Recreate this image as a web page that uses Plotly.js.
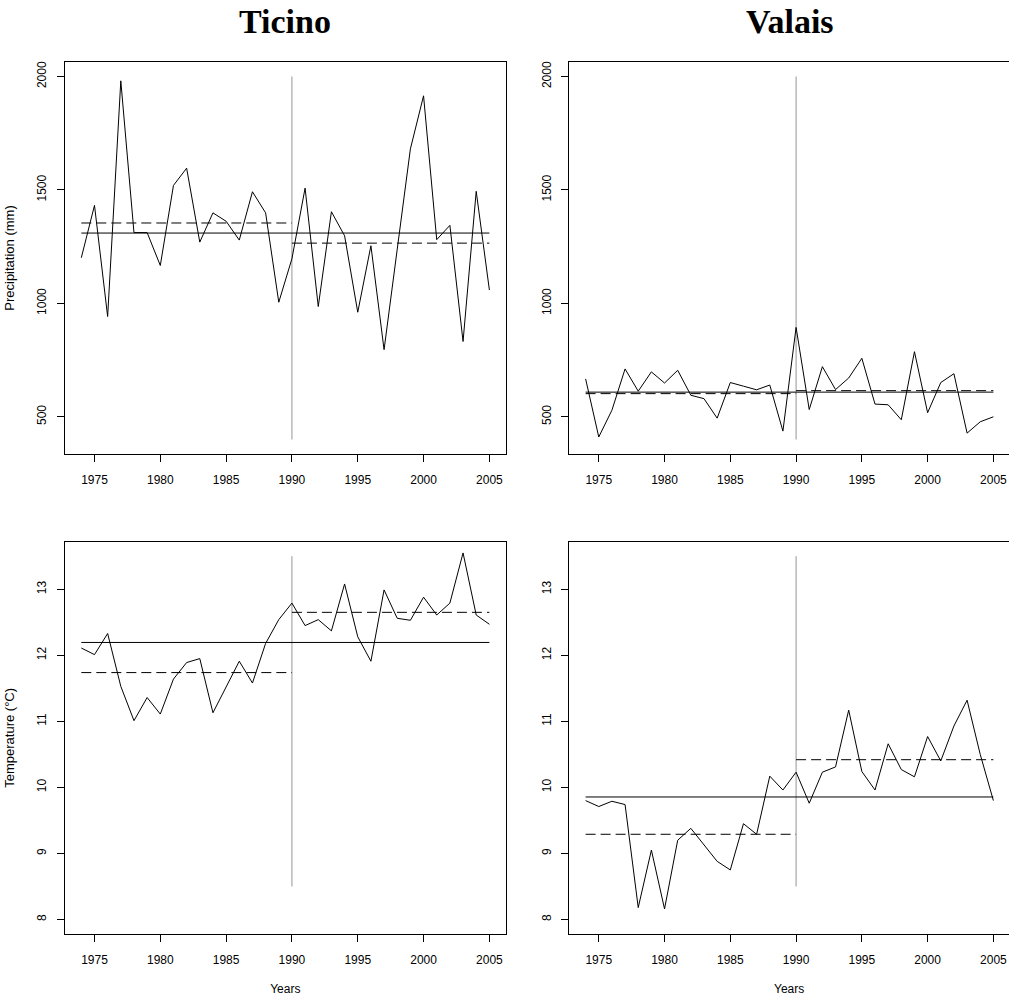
<!DOCTYPE html>
<html>
<head>
<meta charset="utf-8">
<script src="https://cdn.plot.ly/plotly-3.0.1.min.js"></script>
<style>html,body{margin:0;padding:0;background:#fff;}#chart{width:1009px;height:996px;}</style>
</head>
<body>
<div id="chart"></div>
<script>
const years = [1974,1975,1976,1977,1978,1979,1980,1981,1982,1983,1984,1985,1986,1987,1988,1989,
               1990,1991,1992,1993,1994,1995,1996,1997,1998,1999,2000,2001,2002,2003,2004,2005];
const breakYear = 1990;

const ticinoPrecip = [1201,1432,942,1981,1312,1312,1167,1520,1596,1270,1399,1362,1279,1492,1399,1005,
                      1197,1508,986,1404,1298,961,1254,796,1239,1681,1915,1281,1344,832,1494,1059];
const valaisPrecip = [667,411,529,711,613,698,649,705,595,580,494,651,635,619,640,437,
                      894,532,721,620,671,758,556,553,487,787,518,651,690,428,478,500];
const ticinoTemp = [12.11,12.01,12.33,11.53,11.01,11.36,11.11,11.64,11.89,11.95,11.13,11.53,11.91,11.58,12.18,12.54,
                    12.79,12.45,12.54,12.37,13.08,12.28,11.91,12.99,12.56,12.53,12.88,12.61,12.79,13.55,12.61,12.47];
const valaisTemp = [9.80,9.71,9.79,9.74,8.18,9.05,8.16,9.20,9.38,9.13,8.88,8.75,9.45,9.29,10.17,9.96,
                    10.23,9.76,10.23,10.31,11.17,10.24,9.96,10.66,10.27,10.16,10.77,10.40,10.93,11.32,10.50,9.80];

const precipBreakSpan = [400, 2000];
const tempBreakSpan = [8.5, 13.5];

const columnTitles = ["Ticino", "Valais"];
const xTickVals = [1975,1980,1985,1990,1995,2000,2005];
const precipTickVals = [500,1000,1500,2000];
const tempTickVals = [8,9,10,11,12,13];

function mean(a){ return a.reduce((s,v)=>s+v,0)/a.length; }

function panelTraces(vals, span, xa, ya){
  const first = years[0], last = years[years.length-1];
  const before = vals.filter((v,i)=>years[i] < breakYear);
  const after = vals.filter((v,i)=>years[i] >= breakYear);
  const mAll = mean(vals), m1 = mean(before), m2 = mean(after);
  const base = {type:'scatter', mode:'lines', xaxis:xa, yaxis:ya, hoverinfo:'skip', showlegend:false};
  return [
    Object.assign({}, base, {x:[breakYear,breakYear], y:span, line:{color:'#959595', width:1}}),
    Object.assign({}, base, {x:[first,last], y:[mAll,mAll], line:{color:'#000', width:1}}),
    Object.assign({}, base, {x:[first,breakYear], y:[m1,m1], line:{color:'#000', width:1, dash:'10px,5px'}}),
    Object.assign({}, base, {x:[breakYear,last], y:[m2,m2], line:{color:'#000', width:1, dash:'10px,5px'}}),
    Object.assign({}, base, {x:years, y:vals, line:{color:'#000', width:1}})
  ];
}

const data = [].concat(
  panelTraces(ticinoPrecip, precipBreakSpan, 'x', 'y'),
  panelTraces(valaisPrecip, precipBreakSpan, 'x2', 'y2'),
  panelTraces(ticinoTemp, tempBreakSpan, 'x3', 'y3'),
  panelTraces(valaisTemp, tempBreakSpan, 'x4', 'y4')
);

const W = 1009, H = 996;
const tickFont = {family:'"Liberation Sans", Arial, sans-serif', size:12, color:'#000'};
const yTitleFont = {family:'"Liberation Sans", Arial, sans-serif', size:13, color:'#000'};
const common = {
  showgrid:false, zeroline:false, showline:true, linecolor:'#000', linewidth:1, mirror:true,
  ticks:'outside', ticklen:7, tickwidth:1, tickcolor:'#000', tickfont:tickFont, fixedrange:true
};
function xax(d0, d1, anchor, range, withTitle){
  return Object.assign({}, common, {
    domain:[d0/W, Math.min(d1/W,1)], anchor:anchor, range:range,
    tickmode:'array', tickvals:xTickVals, ticklabelstandoff:8,
    title: withTitle ? {text:'Years', font:tickFont, standoff:28} : {text:''}
  });
}
function yax(t0, t1, anchor, range, tickvals, title){
  return Object.assign({}, common, {
    domain:[(H-t1)/H, (H-t0)/H], anchor:anchor, range:range,
    tickmode:'array', tickvals:tickvals, tickangle:-90, ticklabelstandoff:6,
    title: title ? {text:title, font:yTitleFont, standoff:17} : {text:''}
  });
}
const leftX = [65, 505.7], rightX = [569.3, 1009.7];
const topY = [62, 454], botY = [541.7, 934];
const xrFull = [1972.76, 2006.24];
const xrRight = [1972.76, 1972.76 + 33.48*(W - rightX[0])/(rightX[1]-rightX[0])];
const precipRange = [336, 2064];
const tempRange = [7.78, 13.72];

const titleFont = {family:'"Liberation Serif", "DejaVu Serif", serif', size:34, color:'#000', weight:'bold'};
const layout = {
  width:W, height:H, margin:{l:0,r:0,t:0,b:0}, paper_bgcolor:'#fff', plot_bgcolor:'#fff',
  showlegend:false,
  xaxis: xax(leftX[0], leftX[1], 'y', xrFull, false),
  yaxis: yax(topY[0], topY[1], 'x', precipRange, precipTickVals, 'Precipitation (mm)'),
  xaxis2: xax(rightX[0], W, 'y2', xrRight, false),
  yaxis2: yax(topY[0], topY[1], 'x2', precipRange, precipTickVals, null),
  xaxis3: xax(leftX[0], leftX[1], 'y3', xrFull, true),
  yaxis3: yax(botY[0], botY[1], 'x3', tempRange, tempTickVals, 'Temperature (°C)'),
  xaxis4: xax(rightX[0], W, 'y4', xrRight, true),
  yaxis4: yax(botY[0], botY[1], 'x4', tempRange, tempTickVals, null),
  annotations: [
    {text:columnTitles[0], xref:'paper', yref:'paper', x:(leftX[0]+leftX[1])/2/W, y:1-21/H,
     xanchor:'center', yanchor:'middle', showarrow:false, font:titleFont},
    {text:columnTitles[1], xref:'paper', yref:'paper', x:(rightX[0]+rightX[1])/2/W, y:1-21/H,
     xanchor:'center', yanchor:'middle', showarrow:false, font:titleFont}
  ]
};

Plotly.newPlot('chart', data, layout, {displayModeBar:false, staticPlot:true});
</script>
</body>
</html>
